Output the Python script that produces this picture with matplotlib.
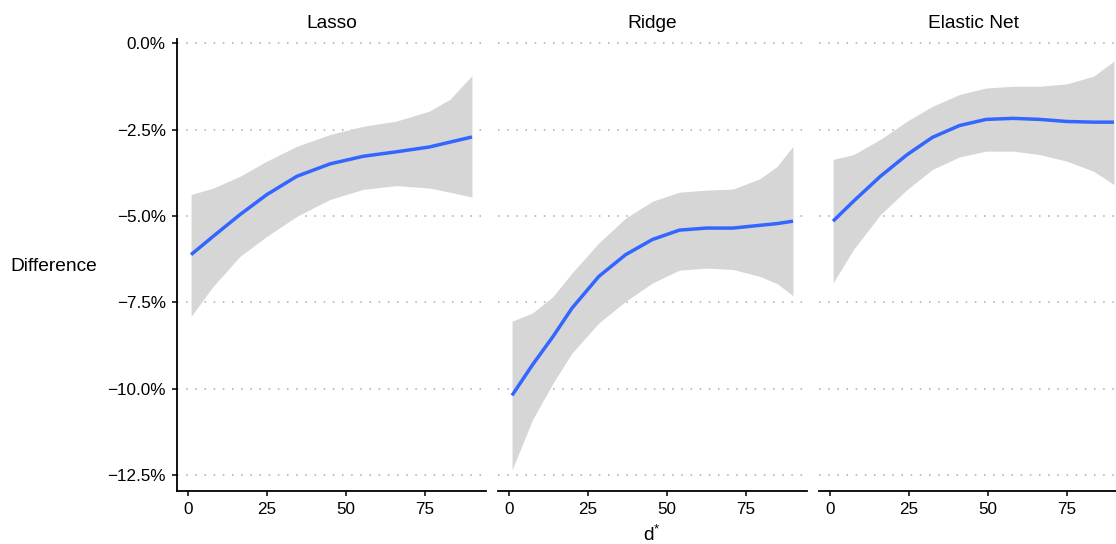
import numpy as np
import matplotlib.pyplot as plt
from matplotlib.ticker import FuncFormatter

# ─── DATA ───────────────────────────────────────────────────────────────────
PANELS = ["Lasso", "Ridge", "Elastic Net"]

lasso_x = [1, 8, 16.5, 25, 34.5, 45, 55.5, 66, 76.5, 83, 90]
lasso_fit = [-6.12, -5.59, -4.96, -4.38, -3.85, -3.49, -3.27, -3.14, -3.00, -2.86, -2.71]
lasso_hi = [-4.38, -4.19, -3.85, -3.41, -2.98, -2.64, -2.40, -2.25, -1.96, -1.62, -0.93]
lasso_lo = [-7.91, -7.04, -6.17, -5.59, -5.01, -4.52, -4.23, -4.12, -4.19, -4.31, -4.45]

ridge_x = [1, 7.5, 14, 20, 28.5, 37, 45.5, 54, 62.5, 71, 79.5, 85, 90]
ridge_fit = [-10.20, -9.31, -8.49, -7.67, -6.75, -6.12, -5.68, -5.41, -5.35, -5.35, -5.27, -5.22, -5.15]
ridge_hi = [-8.05, -7.81, -7.33, -6.65, -5.78, -5.06, -4.57, -4.31, -4.25, -4.22, -3.92, -3.56, -2.98]
ridge_lo = [-12.36, -10.90, -9.84, -8.97, -8.10, -7.47, -6.94, -6.57, -6.51, -6.55, -6.75, -6.96, -7.31]

enet_x = [1, 7.5, 16, 24.5, 32.5, 41, 49.5, 58, 66.5, 75, 83.5, 90]
enet_fit = [-5.15, -4.57, -3.85, -3.22, -2.72, -2.38, -2.20, -2.17, -2.20, -2.26, -2.28, -2.28]
enet_hi = [-3.36, -3.22, -2.78, -2.25, -1.82, -1.48, -1.29, -1.24, -1.24, -1.17, -0.95, -0.51]
enet_lo = [-6.94, -5.97, -4.96, -4.23, -3.65, -3.29, -3.12, -3.12, -3.22, -3.41, -3.70, -4.09]

Y_TICKS = [0.0, -2.5, -5.0, -7.5, -10.0, -12.5]
X_TICKS = [0, 25, 50, 75]
# ────────────────────────────────────────────────────────────────────────────

plt.rcParams["font.family"] = ["Liberation Sans", "DejaVu Sans"]
plt.rcParams["mathtext.fontset"] = "custom"
plt.rcParams["mathtext.rm"] = "Liberation Sans"
plt.rcParams["mathtext.it"] = "Liberation Sans"
plt.rcParams["axes.unicode_minus"] = True

W, H = 1116, 544
fig = plt.figure(figsize=(W / 100, H / 100), dpi=100)

series = [
    (lasso_x, lasso_fit, lasso_lo, lasso_hi),
    (ridge_x, ridge_fit, ridge_lo, ridge_hi),
    (enet_x, enet_fit, enet_lo, enet_hi),
]
lefts = [177, 498, 819]
pw, top_px, bot_px = 309, 39, 491

pct = FuncFormatter(lambda v, _: f"{v:.1f}%".replace("-", "\u2212"))

for i, (name, (x, fit, lo, hi)) in enumerate(zip(PANELS, series)):
    ax = fig.add_axes([lefts[i] / W, 1 - bot_px / H, pw / W, (bot_px - top_px) / H])
    ax.fill_between(x, lo, hi, color="#d6d6d6", linewidth=0, zorder=2)
    ax.plot(x, fit, color="#3366ff", linewidth=2.5, solid_capstyle="butt",
            solid_joinstyle="round", zorder=3)

    ax.set_xlim(-3.45, 94.45)
    ax.set_ylim(-12.97, 0.13)
    ax.set_xticks(X_TICKS)
    ax.set_yticks(Y_TICKS)
    ax.yaxis.set_major_formatter(pct)
    ax.grid(axis="y", color="#ababab", linestyle=(0, (1, 5)), linewidth=1.1, zorder=1)
    ax.set_axisbelow(True)

    for s in ["top", "right"]:
        ax.spines[s].set_visible(False)
    ax.spines["bottom"].set_linewidth(1.3)
    ax.spines["left"].set_linewidth(1.3)
    ax.tick_params(axis="both", length=3.6, width=1.1, labelsize=12.3, pad=4.5,
                   color="black", labelcolor="black")
    if i > 0:
        ax.spines["left"].set_visible(False)
        ax.tick_params(axis="y", left=False, labelleft=False)

    ax.set_title(name, fontsize=13.8, pad=8)

fig.text(10 / W, 1 - 267 / H, "Difference", fontsize=13.8, ha="left", va="center")
fig.text(652 / W, 1 - 541 / H, r"$\mathrm{d}^{*}$", fontsize=13.8, ha="center", va="baseline")

fig.savefig("out.png", dpi=100)
